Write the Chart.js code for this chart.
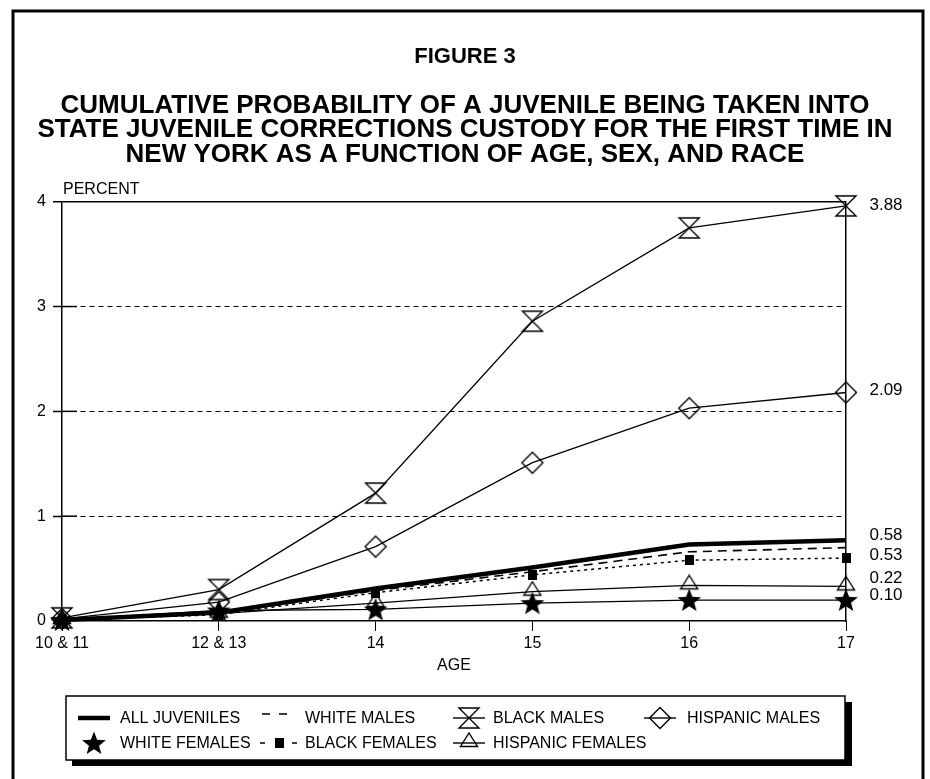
<!DOCTYPE html>
<html>
<head>
<meta charset="utf-8">
<script src="https://cdn.jsdelivr.net/npm/chart.js@4.4.1/dist/chart.umd.min.js"></script>
<style>
  html, body { margin: 0; padding: 0; background: #fff; }
</style>
</head>
<body>
<canvas id="fig3" width="930" height="779"></canvas>
<script>
const ages = ["10 & 11", "12 & 13", "14", "15", "16", "17"];
const allJuveniles    = [0.01, 0.08, 0.31, 0.51, 0.73, 0.77];
const whiteMales      = [0.01, 0.07, 0.29, 0.47, 0.66, 0.70];
const blackMales      = [0.03, 0.30, 1.22, 2.86, 3.75, 3.96];
const hispanicMales   = [0.02, 0.18, 0.71, 1.51, 2.03, 2.18];
const whiteFemales    = [0.01, 0.10, 0.11, 0.17, 0.20, 0.20];
const blackFemales    = [0.01, 0.06, 0.27, 0.44, 0.58, 0.60];
const hispanicFemales = [0.01, 0.07, 0.17, 0.28, 0.34, 0.33];
const endLabels = ["3.88", "2.09", "0.58", "0.53", "0.22", "0.10"];

const FONT = "'Liberation Sans', Arial, Helvetica, sans-serif";

// little canvases used as point markers
function marker(w, h, draw) {
  const c = document.createElement("canvas");
  c.width = w; c.height = h;
  const g = c.getContext("2d");
  g.strokeStyle = "#000"; g.fillStyle = "#000"; g.lineWidth = 1.4;
  draw(g);
  return c;
}
const hourglass = marker(24, 24, g => {
  g.beginPath();
  g.moveTo(2, 2); g.lineTo(22, 2); g.lineTo(2, 22); g.lineTo(22, 22);
  g.closePath(); g.stroke();
});
const diamond = marker(24, 24, g => {
  g.beginPath();
  g.moveTo(12, 1.5); g.lineTo(22.5, 12); g.lineTo(12, 22.5); g.lineTo(1.5, 12);
  g.closePath(); g.stroke();
});
// triangle sits a little above the point, the line runs through its lower part
const triangle = marker(20, 22, g => {
  g.beginPath();
  g.moveTo(10, 1); g.lineTo(18.5, 14.5); g.lineTo(1.5, 14.5);
  g.closePath(); g.stroke();
});
const star = marker(26, 26, g => {
  g.beginPath();
  for (let i = 0; i < 10; i++) {
    const r = i % 2 ? 5.3 : 12.5;
    const a = -Math.PI / 2 + i * Math.PI / 5;
    g.lineTo(13 + r * Math.cos(a), 14 + r * Math.sin(a));
  }
  g.closePath(); g.fill();
});
const square = marker(9, 10, g => g.fillRect(0, 0, 9, 10));

function series(label, data, extra) {
  return Object.assign({
    label: label, data: data, borderColor: "#000", backgroundColor: "#000",
    borderWidth: 1.3, tension: 0, pointRadius: 3, pointHoverRadius: 3, clip: false
  }, extra);
}

const datasets = [
  series("ALL JUVENILES", allJuveniles, { borderWidth: 4.5, pointRadius: 0, order: 7, legendLine: "thick" }),
  series("WHITE MALES", whiteMales, { borderWidth: 1.6, borderDash: [9, 6], pointRadius: 0, order: 6, legendLine: "dashed" }),
  series("BLACK MALES", blackMales, { pointStyle: hourglass, order: 2, legendLine: "solid" }),
  series("HISPANIC MALES", hispanicMales, { pointStyle: diamond, order: 3, legendLine: "solid" }),
  series("WHITE FEMALES", whiteFemales, { pointStyle: star, order: 1, legendLine: "none" }),
  series("BLACK FEMALES", blackFemales, { borderWidth: 1.5, borderDash: [3, 4], pointStyle: square, order: 5, legendLine: "ends" }),
  series("HISPANIC FEMALES", hispanicFemales, { pointStyle: triangle, order: 4, legendLine: "solid" })
];

// legend slots: symbol centre x, text x, row y (same order as datasets)
const legendSlots = [[94, 120, 718], [279, 305, 718], [469, 493, 718], [660, 687, 718],
                     [94, 120, 743], [279, 305, 743], [469, 493, 743]];
const endLabelY = [205, 390, 535, 555, 578, 595];

const figurePlugin = {
  id: "figure",
  beforeDraw(chart) {
    const ctx = chart.ctx;
    ctx.save();
    ctx.fillStyle = "#fff";
    ctx.fillRect(0, 0, chart.width, chart.height);
    ctx.restore();
  },
  beforeDatasetsDraw(chart) {
    // solid inner part of the y tick marks
    const ctx = chart.ctx, y = chart.scales.y, a = chart.chartArea;
    ctx.save();
    ctx.strokeStyle = "#000"; ctx.lineWidth = 1.5;
    [1, 2, 3].forEach(v => {
      const py = y.getPixelForValue(v);
      ctx.beginPath(); ctx.moveTo(a.left, py); ctx.lineTo(a.left + 15, py); ctx.stroke();
    });
    ctx.restore();
  },
  afterDraw(chart) {
    const ctx = chart.ctx, a = chart.chartArea;
    ctx.save();
    // outer frame
    ctx.strokeStyle = "#000"; ctx.lineWidth = 3;
    ctx.strokeRect(13, 11, 910, 800);

    ctx.fillStyle = "#000";
    ctx.textBaseline = "middle";
    ctx.font = "16px " + FONT;
    ctx.textAlign = "left";
    ctx.fillText("PERCENT", a.left + 1, 190);

    ctx.textAlign = "center";
    ctx.font = "17px " + FONT;
    endLabels.forEach((t, i) => ctx.fillText(t, a.right + 40, endLabelY[i]));

    // legend box with shadow
    ctx.fillStyle = "#000";
    ctx.fillRect(72, 702, 780, 64);
    ctx.fillStyle = "#fff";
    ctx.fillRect(66, 696, 779, 64);
    ctx.lineWidth = 1.5;
    ctx.strokeRect(66, 696, 779, 64);

    ctx.font = "16px " + FONT;
    ctx.textAlign = "left";
    chart.data.datasets.forEach((ds, i) => {
      const [cx, tx, ty] = legendSlots[i];
      ctx.strokeStyle = "#000";
      ctx.lineWidth = ds.legendLine === "thick" ? 4.5 : 1.4;
      ctx.setLineDash([]);
      ctx.beginPath();
      if (ds.legendLine === "thick" || ds.legendLine === "solid") {
        ctx.moveTo(cx - 16, ty); ctx.lineTo(cx + 16, ty);
      } else if (ds.legendLine === "dashed") {
        ctx.moveTo(cx - 17, ty - 4); ctx.lineTo(cx - 9, ty - 4);
        ctx.moveTo(cx, ty - 4); ctx.lineTo(cx + 8, ty - 4);
      } else if (ds.legendLine === "ends") {
        ctx.moveTo(cx - 19, ty); ctx.lineTo(cx - 14, ty);
        ctx.moveTo(cx + 13, ty); ctx.lineTo(cx + 18, ty);
      }
      ctx.stroke();
      if (ds.pointStyle) {
        const m = ds.pointStyle;
        ctx.drawImage(m, cx - m.width / 2, ty - m.height / 2);
      }
      ctx.fillStyle = "#000";
      ctx.fillText(ds.label, tx, ty + 1);
    });
    ctx.restore();
  }
};

new Chart(document.getElementById("fig3"), {
  type: "line",
  data: { labels: ages, datasets: datasets },
  plugins: [figurePlugin],
  options: {
    responsive: false,
    devicePixelRatio: 1,
    animation: false,
    events: [],
    layout: { padding: { left: 0, right: 0, top: 0, bottom: 98 } },
    plugins: {
      legend: { display: false },
      tooltip: { enabled: false },
      title: {
        display: true, text: "FIGURE 3", color: "#000",
        font: { family: FONT, size: 22, weight: "bold", lineHeight: 1.2 },
        padding: { top: 44, bottom: 0 }
      },
      subtitle: {
        display: true, color: "#000",
        text: ["CUMULATIVE PROBABILITY OF A JUVENILE BEING TAKEN INTO",
               "STATE JUVENILE CORRECTIONS CUSTODY FOR THE FIRST TIME IN",
               "NEW YORK AS A FUNCTION OF AGE, SEX, AND RACE"],
        font: { family: FONT, size: 26, weight: "bold", lineHeight: 0.94 },
        padding: { top: 23, bottom: 35 }
      }
    },
    scales: {
      x: {
        offset: false,
        grid: { drawOnChartArea: false, color: "#000", tickLength: 10, lineWidth: 1 },
        border: { color: "#000", width: 1.5 },
        ticks: { color: "#000", font: { family: FONT, size: 16 }, padding: 3, maxRotation: 0, autoSkip: false },
        title: { display: true, text: "AGE", color: "#000", font: { family: FONT, size: 16 }, padding: { top: 0, bottom: 6 } },
        afterFit(s) { s.height = 60; }
      },
      y: {
        min: 0, max: 4,
        grid: {
          color: c => (c.tick && c.tick.value === 0) ? "rgba(0,0,0,0)" : "#000",
          lineWidth: c => (c.tick && c.tick.value === 4) ? 1.5 : 1,
          tickColor: "#000", tickLength: 9, tickWidth: 1.5
        },
        border: {
          color: "#000", width: 1.5,
          dash: c => (c.tick && c.tick.value > 0 && c.tick.value < 4) ? [5, 4] : []
        },
        ticks: { stepSize: 1, color: "#000", font: { family: FONT, size: 16 }, padding: 7 },
        afterFit(s) { s.width = 62; }
      },
      yRight: {
        position: "right", min: 0, max: 4,
        grid: { display: false },
        border: { color: "#000", width: 1.5 },
        ticks: { display: false },
        afterFit(s) { s.width = 84; }
      }
    }
  }
});
</script>
</body>
</html>
